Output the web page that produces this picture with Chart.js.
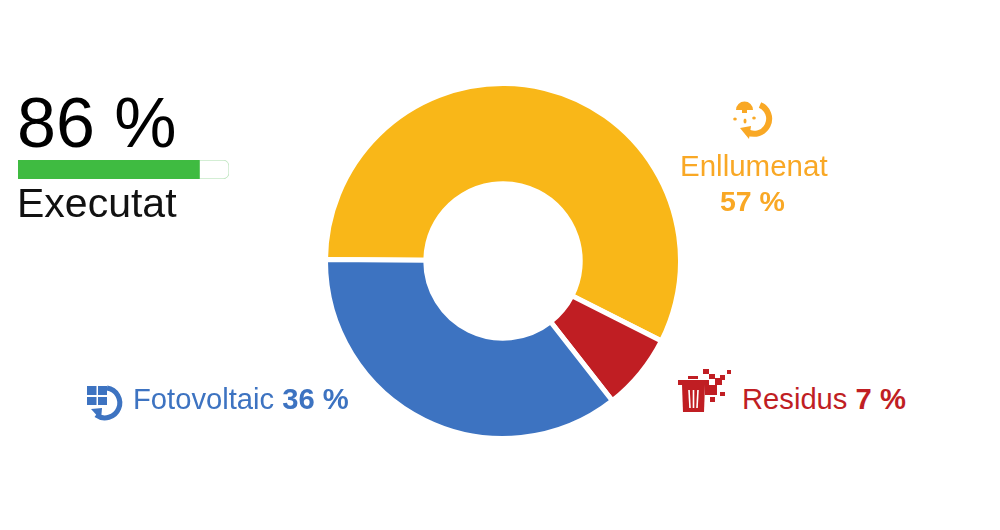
<!DOCTYPE html>
<html>
<head>
<meta charset="utf-8">
<script src="https://cdn.jsdelivr.net/npm/chart.js@4"></script>
<style>
  html, body { margin: 0; padding: 0; background: #fff; width: 1000px; height: 530px; overflow: hidden; }
  body { font-family: "Liberation Sans", Arial, sans-serif; position: relative; }
  canvas { position: absolute; }
  .t { position: absolute; line-height: 1; white-space: nowrap; }
  .l { font-size: 29.2px; }
  #icons { position: absolute; left: 0; top: 0; }
</style>
</head>
<body>
<canvas id="donut" style="left:323px;top:81px" width="360" height="360"></canvas>
<canvas id="progress" style="left:16px;top:157px" width="215" height="25"></canvas>

<div class="t" style="left:17px;top:88px;font-size:70px;color:#000">86 %</div>
<div class="t" style="left:17px;top:183px;font-size:41px;color:#111">Executat</div>
<div class="t l" style="left:680px;top:151px;font-size:29.5px;color:#f9a825">Enllumenat</div>
<div class="t l" style="left:720px;top:187px;font-size:28.5px;color:#f9a825;font-weight:bold">57 %</div>
<div class="t l" style="left:133px;top:385px;color:#3d73c1">Fotovoltaic <b>36 %</b></div>
<div class="t l" style="left:742px;top:385px;color:#c01e23">Residus <b>7 %</b></div>

<svg id="icons" width="1000" height="530">
  <!-- lamp -->
  <g fill="#f9a825" stroke="none">
    <path d="M736 110 a8.5 8.5 0 0 1 17 0 h-6 v3 h-5 v-3 z"/>
    <ellipse cx="735" cy="119" rx="1.8" ry="1.5"/>
    <ellipse cx="745" cy="121" rx="1.5" ry="2.5"/>
    <ellipse cx="754" cy="118" rx="1.8" ry="1.5"/>
    <path d="M740 128 l11 -2 l-2 13 z"/>
  </g>
  <path d="M760 105 A15 15 0 1 1 747 132" fill="none" stroke="#f9a825" stroke-width="6"/>
  <!-- bin -->
  <g fill="#c01e23">
    <rect x="678" y="380" width="31" height="5"/>
    <rect x="688" y="376" width="10" height="3"/>
    <path d="M682 385 h23 l-1 27 h-21 z"/>
    <rect x="703" y="369" width="6" height="5"/><rect x="709" y="374" width="6" height="5"/>
    <rect x="715" y="378" width="7" height="7"/><rect x="720" y="375" width="5" height="5"/>
    <rect x="727" y="370" width="4" height="4"/>
    <rect x="705" y="385" width="12" height="10"/>
    <rect x="720" y="392" width="5" height="4"/><rect x="710" y="397" width="5" height="5"/>
  </g>
  <g stroke="#fff" stroke-width="1.6">
    <line x1="689" y1="390" x2="690" y2="408"/>
    <line x1="693.5" y1="390" x2="693.5" y2="408"/>
    <line x1="698" y1="390" x2="697" y2="408"/>
  </g>
  <!-- panel -->
  <g fill="#3d73c1">
    <rect x="87" y="386" width="9.5" height="9"/><rect x="98" y="386" width="9" height="9"/>
    <rect x="87" y="397" width="9.5" height="8"/><rect x="98" y="397" width="9" height="8"/>
    <path d="M91 409 l11 -1 l-1 12 z"/>
  </g>
  <path d="M107 388 A15 15 0 1 1 96 415" fill="none" stroke="#3d73c1" stroke-width="5"/>
</svg>

<script>
var categories = ['Enllumenat', 'Residus', 'Fotovoltaic'];
var shares = [57.3, 7, 35.7];
var sliceColors = ['#f9b718', '#c01e23', '#3d73c1'];
var executed = [86];
var remaining = [14];

new Chart(document.getElementById('donut'), {
    type: 'doughnut',
    data: {
        labels: categories,
        datasets: [{
            data: shares,
            backgroundColor: sliceColors,
            borderColor: '#fff',
            borderWidth: 5
        }]
    },
    options: {
        responsive: false,
        animation: false,
        rotation: -89.5,
        cutout: '43.5%',
        plugins: { legend: { display: false }, tooltip: { enabled: false } }
    }
});

new Chart(document.getElementById('progress'), {
    type: 'bar',
    data: {
        labels: ['Executat'],
        datasets: [
            { data: executed, backgroundColor: '#3fbb41', borderSkipped: false, barPercentage: 1, categoryPercentage: 1 },
            {
                data: remaining,
                backgroundColor: '#fff',
                borderColor: '#c5e8c6',
                borderWidth: 1,
                borderRadius: { topRight: 6, bottomRight: 6 },
                borderSkipped: 'left',
                barPercentage: 1,
                categoryPercentage: 1
            }
        ]
    },
    options: {
        indexAxis: 'y',
        responsive: false,
        animation: false,
        layout: { padding: { left: 2, right: 2, top: 3, bottom: 3 } },
        scales: {
            x: { display: false, stacked: true, min: 0, max: 100 },
            y: { display: false, stacked: true }
        },
        plugins: { legend: { display: false }, tooltip: { enabled: false } }
    }
});
</script>
</body>
</html>
